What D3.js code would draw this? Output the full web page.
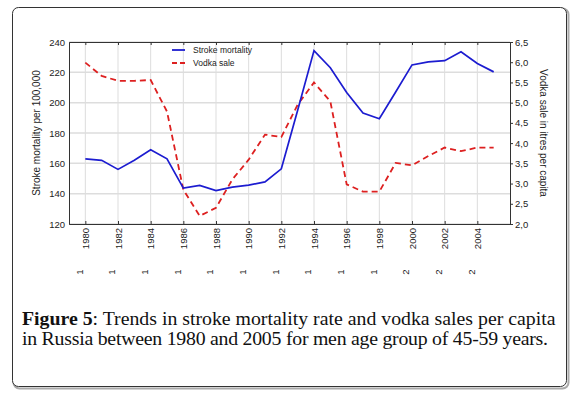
<!DOCTYPE html>
<html>
<head>
<meta charset="utf-8">
<script src="https://cdn.jsdelivr.net/npm/d3@7"></script>
<style>
  body { margin: 0; background: #fff; }
  svg text { font-family: "Liberation Sans Narrow", "Liberation Sans", Arial, sans-serif; }
</style>
</head>
<body>
<div id="chart"></div>
<script>
// data
const years = d3.range(1980, 2006);
const stroke = [163, 162, 156, 162, 169, 163, 143.7, 145.4, 142, 144.3, 145.6, 147.8, 156.4,
  195, 234.3, 223, 206.7, 193.1, 189.4, 207, 224.9, 226.9, 227.7, 233.6, 225.8, 220.3];
const vodka = [5.99, 5.66, 5.54, 5.54, 5.56, 4.78, 2.85, 2.2, 2.4, 3.1, 3.59, 4.21, 4.15,
  4.95, 5.5, 5.03, 2.98, 2.8, 2.8, 3.51, 3.45, 3.68, 3.89, 3.8, 3.89, 3.89];
const yearTicks = d3.range(1980, 2006, 2);
const leftTicks = [120, 140, 160, 180, 200, 220, 240];
const rightTicks = [2, 2.5, 3, 3.5, 4, 4.5, 5, 5.5, 6, 6.5];
const captionBold = "Figure 5";
const captionLines = [": Trends in stroke mortality rate and vodka sales per capita",
  "in Russia between 1980 and 2005 for men age group of 45-59 years."];

const W = 575, H = 394;
const margin = { top: 42, right: 65, bottom: 170, left: 69 },
  width = W - margin.left - margin.right,
  height = H - margin.top - margin.bottom;

const svg = d3.select("#chart").append("svg")
  .attr("width", W).attr("height", H);

// figure frame with a soft shadow
svg.append("rect").attr("x", 13.5).attr("y", 8.5).attr("width", 555).attr("height", 380)
  .attr("rx", 6).attr("fill", "none").attr("stroke", "#aaa").attr("stroke-width", 2);
svg.append("rect").attr("x", 12.5).attr("y", 7.5).attr("width", 554).attr("height", 379)
  .attr("rx", 6).attr("fill", "#fff").attr("stroke", "#333").attr("stroke-width", 1);

const g = svg.append("g").attr("transform", `translate(${margin.left}, ${margin.top})`);

const x = d3.scaleLinear().domain([1979, 2006]).range([0, width]);
const y = d3.scaleLinear().domain([120, 240]).range([height, 0]);
const y2 = d3.scaleLinear().domain([2, 6.5]).range([height, 0]);

// grid
g.append("g").selectAll("line").data(yearTicks).join("line")
  .attr("x1", d => x(d)).attr("x2", d => x(d)).attr("y1", 0).attr("y2", height)
  .attr("stroke", "#ddd").attr("stroke-width", 1);
g.append("g").selectAll("line").data(leftTicks).join("line")
  .attr("x1", 0).attr("x2", width).attr("y1", d => y(d)).attr("y2", d => y(d))
  .attr("stroke", "#ddd").attr("stroke-width", 1.5);

// axes
const axisColor = "#333";
function styleAxis(sel) {
  sel.selectAll("path,line").attr("stroke", axisColor);
  sel.selectAll("text").attr("fill", "#222").style("font-size", "9.5px");
}
g.append("g").call(d3.axisLeft(y).tickValues(leftTicks).tickSize(0).tickPadding(4)).call(styleAxis);
g.append("g").attr("transform", `translate(${width},0)`)
  .call(d3.axisRight(y2).tickValues(rightTicks).tickSize(3).tickPadding(2)
    .tickFormat(d => d3.format(".1f")(d).replace(".", ",")))
  .call(styleAxis);
g.append("g").call(d3.axisTop(x).tickValues(yearTicks).tickSize(-3).tickFormat(""))
  .call(styleAxis);
const xb = g.append("g").attr("transform", `translate(0,${height})`)
  .call(d3.axisBottom(x).tickValues(yearTicks).tickSize(-3).tickFormat(d3.format("d")).tickPadding(0))
  .call(styleAxis);
xb.selectAll("text")
  .attr("transform", "rotate(-90)")
  .attr("text-anchor", "end")
  .attr("x", -4).attr("y", 0).attr("dy", "0.35em");

// the stray thousands digits below the year labels
g.append("g").selectAll("text").data(yearTicks).join("text")
  .attr("transform", d => `translate(${x(d) - 6},${height + 48}) rotate(-90)`)
  .attr("text-anchor", "middle").attr("dy", "0.35em")
  .style("font-size", "9.5px").attr("fill", "#222")
  .text(d => String(d)[0]);

// lines
const strokeLine = d3.line().x((d, i) => x(years[i])).y(d => y(d));
const vodkaLine = d3.line().x((d, i) => x(years[i])).y(d => y2(d));
g.append("path").datum(vodka).attr("d", vodkaLine)
  .attr("fill", "none").attr("stroke", "#dd2020").attr("stroke-width", 1.8)
  .attr("stroke-dasharray", "6,4");
g.append("path").datum(stroke).attr("d", strokeLine)
  .attr("fill", "none").attr("stroke", "#1c1cd0").attr("stroke-width", 1.7);

// legend
const legend = [
  { name: "Stroke mortality", color: "#1c1cd0", dash: null },
  { name: "Vodka sale", color: "#dd2020", dash: "5,3" }
];
const lg = g.append("g").attr("transform", "translate(103,8)");
legend.forEach((d, i) => {
  lg.append("line").attr("x1", 0).attr("x2", 13).attr("y1", i * 13).attr("y2", i * 13)
    .attr("stroke", d.color).attr("stroke-width", 1.8).attr("stroke-dasharray", d.dash);
  lg.append("text").attr("x", 21).attr("y", i * 13).attr("dy", "0.35em")
    .style("font-size", "8.5px").attr("fill", "#222").text(d.name);
});

// axis titles
svg.append("text").attr("transform", `translate(36,${margin.top + height / 2}) rotate(-90)`)
  .attr("text-anchor", "middle").attr("dy", "0.35em").style("font-size", "10px").attr("fill", "#222")
  .text("Stroke mortality per 100,000");
svg.append("text").attr("transform", `translate(543,${margin.top + height / 2}) rotate(90)`)
  .attr("text-anchor", "middle").attr("dy", "0.35em").style("font-size", "10px").attr("fill", "#222")
  .text("Vodka sale in itres per capita");

// caption
const cap = svg.append("g");
const t1 = cap.append("text").attr("x", 22).attr("y", 325).style("font-size", "17px")
  .style("font-family", "'Liberation Serif', serif").attr("fill", "#111");
t1.append("tspan").style("font-weight", "bold").text(captionBold);
t1.append("tspan").text(captionLines[0]);
const t2 = cap.append("text").attr("x", 22).attr("y", 345).style("font-size", "17px")
  .style("font-family", "'Liberation Serif', serif").attr("fill", "#111")
  .text(captionLines[1]);
// fit caption to the widths measured on the original
const w1 = t1.node().getComputedTextLength();
const fs = 17 * 534 / w1;
t1.style("font-size", fs + "px");
t2.style("font-size", fs + "px")
  .attr("textLength", 526).attr("lengthAdjust", "spacing");
</script>
</body>
</html>
